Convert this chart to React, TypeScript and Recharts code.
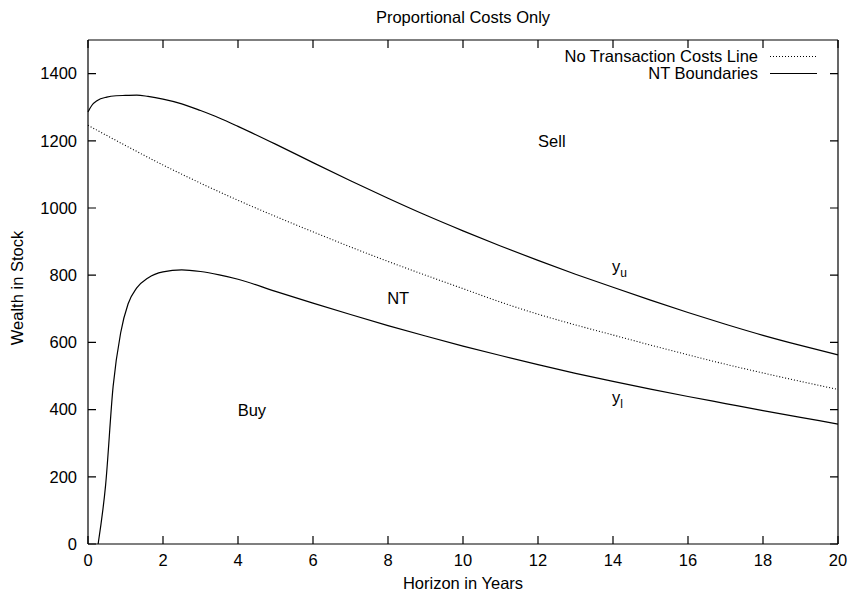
import React from "react";
import {
  Legend,
  Line,
  LineChart,
  ReferenceDot,
  ReferenceLine,
  XAxis,
  YAxis,
} from "recharts";

// NT boundary values (years -> wealth in stock)
const upperYears = [0, 0.1, 0.25, 0.5, 0.75, 1, 1.3, 1.6, 2, 2.5, 3, 3.5, 4, 5, 6, 7, 8, 9, 10, 11, 12, 13, 14, 15, 16, 17, 18, 19, 20];
const upperWealth = [1286, 1305, 1320, 1330, 1334, 1335, 1336, 1332, 1324, 1310, 1290, 1268, 1243, 1190, 1135, 1081, 1029, 979, 932, 887, 844, 803, 764, 726, 689, 654, 621, 591, 563];

const lowerYears = [0.27, 0.47, 0.67, 0.87, 1.07, 1.3, 1.6, 2, 2.5, 3, 3.5, 4, 5, 6, 7, 8, 9, 10, 11, 12, 13, 14, 15, 16, 17, 18, 19, 20];
const lowerWealth = [0, 176, 469, 628, 715, 762, 792, 810, 816, 811, 801, 788, 752, 717, 683, 650, 619, 589, 561, 534, 508, 484, 461, 439, 418, 397, 377, 357];

const ntcYears = [0, 1, 2, 3, 4, 5, 6, 7, 8, 9, 10, 11, 12, 13, 14, 15, 16, 17, 18, 19, 20];
const ntcWealth = [1246, 1186, 1128, 1074, 1023, 975, 929, 884, 841, 800, 760, 720, 684, 652, 622, 592, 563, 535, 509, 484, 460];

const xTicks = [0, 2, 4, 6, 8, 10, 12, 14, 16, 18, 20];
const yTicks = [0, 200, 400, 600, 800, 1000, 1200, 1400];

// region labels
const regionNames = ["Sell", "NT", "Buy"];
const regionYears = [12.37, 8.27, 4.37];
const regionWealth = [1200, 733, 399];

// y_u / y_l boundary labels
const boundarySubs = ["u", "l"];
const boundaryYears = [13.97, 13.97];
const boundaryWealth = [810, 420];

const FONT = "'Liberation Sans', Arial, Helvetica, sans-serif";
const FS = 16.5;
const W = 851;
const H = 601;
const X_AXIS_H = 57;
const Y_AXIS_W = 88;
const BOTTOM = H - X_AXIS_H; // plot bottom edge
const TICK = 8;
const LW = 1.2;

const upperData = upperYears.map((x, i) => ({ x, v: upperWealth[i] }));
const lowerData = lowerYears.map((x, i) => ({ x, v: lowerWealth[i] }));
const ntcData = ntcYears.map((x, i) => ({ x, v: ntcWealth[i] }));

const txt = { fontFamily: FONT, fontSize: FS, fill: "#000" };

function BottomTick(p: any) {
  return (
    <text x={p.x} y={BOTTOM + 22} textAnchor="middle" {...txt}>
      {p.payload.value}
    </text>
  );
}

function LeftTick(p: any) {
  return (
    <text x={Y_AXIS_W - 11} y={p.y} dy="0.35em" textAnchor="end" {...txt}>
      {p.payload.value}
    </text>
  );
}

const NoLabel = () => <g />;

// gnuplot style inward ticks on both ends of a reference line
function TickPair(p: any) {
  const { x1, y1, x2, y2 } = p;
  const len = Math.hypot(x2 - x1, y2 - y1) || 1;
  const ux = ((x2 - x1) / len) * TICK;
  const uy = ((y2 - y1) / len) * TICK;
  return (
    <path
      d={`M${x1},${y1}L${x1 + ux},${y1 + uy}M${x2},${y2}L${x2 - ux},${y2 - uy}`}
      stroke="#000"
      strokeWidth={LW}
      fill="none"
    />
  );
}

function KeyBox() {
  return (
    <svg width={340} height={40} style={{ display: "block" }}>
      <text x={258} y={10} dy="0.35em" textAnchor="end" {...txt}>
        No Transaction Costs Line
      </text>
      <line x1={270} x2={317} y1={10.5} y2={10.5} stroke="#000" strokeWidth={1.1} strokeDasharray="1 2" />
      <text x={258} y={27} dy="0.35em" textAnchor="end" {...txt}>
        NT Boundaries
      </text>
      <line x1={270} x2={317} y1={27.5} y2={27.5} stroke="#000" strokeWidth={LW} />
    </svg>
  );
}

const frame = { stroke: "#000", strokeWidth: LW };

export default function App() {
  return (
    <div style={{ position: "absolute", left: 0, top: 0, width: W, height: H, background: "#fff" }}>
      <LineChart width={W} height={H} margin={{ top: 39, right: 12, bottom: 0, left: 0 }}>
        <XAxis
          dataKey="x"
          type="number"
          domain={[0, 20]}
          ticks={xTicks}
          interval={0}
          height={X_AXIS_H}
          tickSize={0}
          tickMargin={0}
          tickLine={false}
          axisLine={frame}
          tick={BottomTick}
          allowDuplicatedCategory={false}
          label={{
            content: (lp: any) => (
              <text x={lp.viewBox.x + lp.viewBox.width / 2} y={lp.viewBox.y + 45} textAnchor="middle" {...txt}>
                Horizon in Years
              </text>
            ),
          }}
        />
        <XAxis
          xAxisId="top"
          orientation="top"
          dataKey="x"
          type="number"
          domain={[0, 20]}
          ticks={xTicks}
          interval={0}
          height={1}
          tickSize={0}
          tickLine={false}
          axisLine={frame}
          tick={NoLabel}
          allowDuplicatedCategory={false}
          label={{
            content: (lp: any) => (
              <text x={lp.viewBox.x + lp.viewBox.width / 2} y={lp.viewBox.y - 16} textAnchor="middle" {...txt}>
                Proportional Costs Only
              </text>
            ),
          }}
        />
        <YAxis
          type="number"
          domain={[0, 1500]}
          ticks={yTicks}
          interval={0}
          width={Y_AXIS_W}
          tickSize={0}
          tickMargin={0}
          tickLine={false}
          axisLine={frame}
          tick={LeftTick}
          label={{
            content: (lp: any) => {
              const cy = lp.viewBox.y + lp.viewBox.height / 2 - 4;
              return (
                <text x={17} y={cy} textAnchor="middle" dominantBaseline="central" transform={`rotate(-90 17 ${cy})`} {...txt}>
                  Wealth in Stock
                </text>
              );
            },
          }}
        />
        <YAxis
          yAxisId="right"
          orientation="right"
          type="number"
          domain={[0, 1500]}
          ticks={yTicks}
          interval={0}
          width={1}
          tickSize={0}
          tickLine={false}
          axisLine={frame}
          tick={NoLabel}
        />
        <Legend
          layout="horizontal"
          verticalAlign="middle"
          align="center"
          wrapperStyle={{ position: "absolute", left: 500, top: 46, width: 340, height: 40 }}
          content={() => <KeyBox />}
        />
        {xTicks.map((t) => (
          <ReferenceLine key={`xt${t}`} x={t} ifOverflow="visible" shape={TickPair} />
        ))}
        {yTicks.map((t) => (
          <ReferenceLine key={`yt${t}`} y={t} ifOverflow="visible" shape={TickPair} />
        ))}
        <Line
          data={ntcData}
          dataKey="v"
          type="monotone"
          stroke="#000"
          strokeWidth={1.1}
          strokeDasharray="1 2"
          dot={false}
          isAnimationActive={false}
        />
        <Line
          data={upperData}
          dataKey="v"
          type="monotone"
          stroke="#000"
          strokeWidth={LW}
          dot={false}
          isAnimationActive={false}
        />
        <Line
          data={lowerData}
          dataKey="v"
          type="monotone"
          stroke="#000"
          strokeWidth={LW}
          dot={false}
          isAnimationActive={false}
        />
        {regionNames.map((name, i) => (
          <ReferenceDot
            key={name}
            x={regionYears[i]}
            y={regionWealth[i]}
            r={0}
            shape={(sp: any) => (
              <text x={sp.cx} y={sp.cy} textAnchor="middle" dominantBaseline="central" {...txt}>
                {name}
              </text>
            )}
          />
        ))}
        {boundarySubs.map((sub, i) => (
          <ReferenceDot
            key={sub}
            x={boundaryYears[i]}
            y={boundaryWealth[i]}
            r={0}
            shape={(sp: any) => (
              <text x={sp.cx} y={sp.cy} {...txt}>
                y
                <tspan dy={5} fontSize={12}>
                  {sub}
                </tspan>
              </text>
            )}
          />
        ))}
      </LineChart>
    </div>
  );
}
